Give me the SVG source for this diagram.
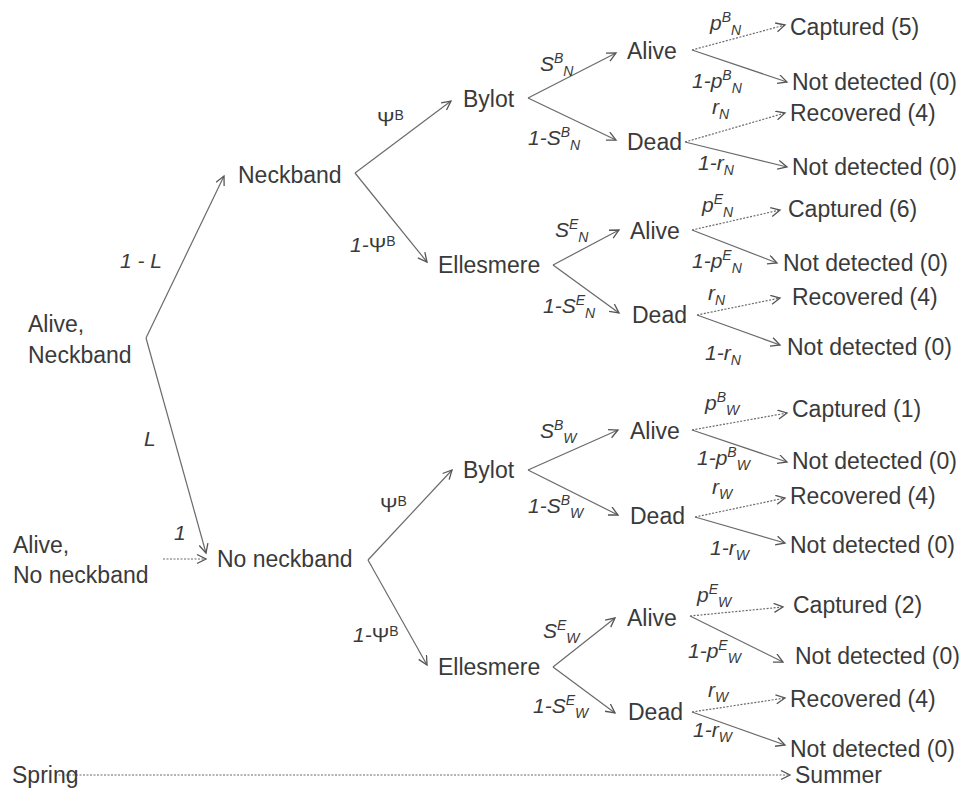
<svg xmlns="http://www.w3.org/2000/svg" width="971" height="791" viewBox="0 0 971 791">
<style>
.n{font-family:"Liberation Sans",Arial,sans-serif;font-size:23px;fill:#3a3a3a}
.l{font-family:"Liberation Sans",Arial,sans-serif;font-size:21px;font-style:italic;fill:#3a3a3a}
.u{font-style:normal}
.s{font-size:14px}
.c{stroke:#6a6a6a;stroke-width:1.2;fill:none;marker-end:url(#ah)}
.d{stroke-dasharray:2,1.5}
</style>
<defs>
<marker id="ah" markerUnits="userSpaceOnUse" markerWidth="12" markerHeight="12" refX="10" refY="5" orient="auto">
<path d="M1,0.5 L10,5 L1,9.5" stroke="#555" stroke-width="1.3" fill="none"/>
</marker>
</defs>
<rect width="971" height="791" fill="#fff"/>
<g id="connectors">
<line class="c" x1="146" y1="338" x2="224" y2="176"/>
<line class="c" x1="146" y1="338" x2="206" y2="553"/>
<line class="c d" x1="163" y1="559" x2="206" y2="559"/>
<line class="c" x1="355" y1="173" x2="451" y2="101"/>
<line class="c" x1="355" y1="173" x2="427" y2="262"/>
<line class="c" x1="528" y1="98" x2="616" y2="53"/>
<line class="c" x1="528" y1="98" x2="616" y2="140"/>
<line class="c" x1="553" y1="265" x2="619" y2="230"/>
<line class="c" x1="553" y1="265" x2="619" y2="313"/>
<line class="c d" x1="692" y1="50" x2="785" y2="25"/>
<line class="c" x1="692" y1="50" x2="787" y2="82"/>
<line class="c d" x1="685" y1="142" x2="785" y2="113"/>
<line class="c" x1="685" y1="142" x2="787" y2="167"/>
<line class="c d" x1="692" y1="230" x2="780" y2="210"/>
<line class="c" x1="692" y1="230" x2="777" y2="263"/>
<line class="c d" x1="697" y1="315" x2="780" y2="298"/>
<line class="c" x1="697" y1="315" x2="780" y2="345"/>
<line class="c" x1="368" y1="560" x2="452" y2="470"/>
<line class="c" x1="368" y1="560" x2="427" y2="665"/>
<line class="c" x1="528" y1="470" x2="618" y2="430"/>
<line class="c" x1="528" y1="470" x2="618" y2="515"/>
<line class="c" x1="553" y1="667" x2="615" y2="618"/>
<line class="c" x1="553" y1="667" x2="615" y2="713"/>
<line class="c d" x1="692" y1="430" x2="787" y2="413"/>
<line class="c" x1="692" y1="430" x2="787" y2="462"/>
<line class="c d" x1="695" y1="517" x2="785" y2="498"/>
<line class="c" x1="695" y1="517" x2="785" y2="543"/>
<line class="c d" x1="690" y1="616" x2="783" y2="607"/>
<line class="c" x1="690" y1="616" x2="783" y2="662"/>
<line class="c d" x1="692" y1="712" x2="785" y2="698"/>
<line class="c" x1="692" y1="712" x2="785" y2="745"/>
<line class="c d" x1="55" y1="775" x2="790" y2="775"/>
</g>
<g id="labels">
<text class="l" x="120" y="268">1 - L</text>
<text class="l" x="144" y="446">L</text>
<text class="l" x="174" y="540">1</text>
<text class="l u" x="377" y="126">Ψ<tspan class="s" dy="-6">B</tspan></text>
<text class="l" x="350" y="252">1-<tspan class="u">Ψ</tspan><tspan class="s u" dy="-6">B</tspan></text>
<text class="l u" x="380" y="512">Ψ<tspan class="s" dy="-6">B</tspan></text>
<text class="l" x="353" y="642">1-<tspan class="u">Ψ</tspan><tspan class="s u" dy="-6">B</tspan></text>
<text class="l" x="540" y="71">S<tspan class="s" dy="-8">B</tspan><tspan class="s" dy="13">N</tspan></text>
<text class="l" x="528" y="145">1-S<tspan class="s" dy="-8">B</tspan><tspan class="s" dy="13">N</tspan></text>
<text class="l" x="555" y="237">S<tspan class="s" dy="-8">E</tspan><tspan class="s" dy="13">N</tspan></text>
<text class="l" x="543" y="313">1-S<tspan class="s" dy="-8">E</tspan><tspan class="s" dy="13">N</tspan></text>
<text class="l" x="540" y="438">S<tspan class="s" dy="-8">B</tspan><tspan class="s" dy="13">W</tspan></text>
<text class="l" x="528" y="513">1-S<tspan class="s" dy="-8">B</tspan><tspan class="s" dy="13">W</tspan></text>
<text class="l" x="543" y="638">S<tspan class="s" dy="-8">E</tspan><tspan class="s" dy="13">W</tspan></text>
<text class="l" x="533" y="713">1-S<tspan class="s" dy="-8">E</tspan><tspan class="s" dy="13">W</tspan></text>
<text class="l" x="710" y="30">p<tspan class="s" dy="-8">B</tspan><tspan class="s" dy="13">N</tspan></text>
<text class="l" x="692" y="88">1-p<tspan class="s" dy="-8">B</tspan><tspan class="s" dy="13">N</tspan></text>
<text class="l" x="712" y="114">r<tspan class="s" dy="5">N</tspan></text>
<text class="l" x="698" y="170">1-r<tspan class="s" dy="5">N</tspan></text>
<text class="l" x="702" y="212">p<tspan class="s" dy="-8">E</tspan><tspan class="s" dy="13">N</tspan></text>
<text class="l" x="692" y="268">1-p<tspan class="s" dy="-8">E</tspan><tspan class="s" dy="13">N</tspan></text>
<text class="l" x="708" y="300">r<tspan class="s" dy="5">N</tspan></text>
<text class="l" x="705" y="360">1-r<tspan class="s" dy="5">N</tspan></text>
<text class="l" x="705" y="410">p<tspan class="s" dy="-8">B</tspan><tspan class="s" dy="13">W</tspan></text>
<text class="l" x="697" y="465">1-p<tspan class="s" dy="-8">B</tspan><tspan class="s" dy="13">W</tspan></text>
<text class="l" x="712" y="494">r<tspan class="s" dy="5">W</tspan></text>
<text class="l" x="710" y="555">1-r<tspan class="s" dy="5">W</tspan></text>
<text class="l" x="697" y="602">p<tspan class="s" dy="-8">E</tspan><tspan class="s" dy="13">W</tspan></text>
<text class="l" x="688" y="658">1-p<tspan class="s" dy="-8">E</tspan><tspan class="s" dy="13">W</tspan></text>
<text class="l" x="708" y="697">r<tspan class="s" dy="5">W</tspan></text>
<text class="l" x="693" y="737">1-r<tspan class="s" dy="5">W</tspan></text>
</g>
<g id="alive-neckband"><text class="n" x="28" y="332">Alive,</text><text class="n" x="28" y="363">Neckband</text></g>
<g id="alive-noneckband"><text class="n" x="13" y="553">Alive,</text><text class="n" x="13" y="583">No neckband</text></g>
<g id="neckband"><text class="n" x="238" y="183">Neckband</text></g>
<g id="noneckband"><text class="n" x="217" y="567">No neckband</text></g>
<g id="bylot-n"><text class="n" x="463" y="107">Bylot</text></g>
<g id="ellesmere-n"><text class="n" x="438" y="273">Ellesmere</text></g>
<g id="bylot-w"><text class="n" x="463" y="478">Bylot</text></g>
<g id="ellesmere-w"><text class="n" x="438" y="675">Ellesmere</text></g>
<g id="alive-bn"><text class="n" x="627" y="59">Alive</text></g>
<g id="dead-bn"><text class="n" x="627" y="150">Dead</text></g>
<g id="alive-en"><text class="n" x="630" y="239">Alive</text></g>
<g id="dead-en"><text class="n" x="632" y="323">Dead</text></g>
<g id="alive-bw"><text class="n" x="630" y="439">Alive</text></g>
<g id="dead-bw"><text class="n" x="630" y="524">Dead</text></g>
<g id="alive-ew"><text class="n" x="627" y="626">Alive</text></g>
<g id="dead-ew"><text class="n" x="628" y="720">Dead</text></g>
<g id="out1"><text class="n" x="790" y="35">Captured (5)</text></g>
<g id="out2"><text class="n" x="792" y="90">Not detected (0)</text></g>
<g id="out3"><text class="n" x="790" y="121">Recovered (4)</text></g>
<g id="out4"><text class="n" x="792" y="175">Not detected (0)</text></g>
<g id="out5"><text class="n" x="788" y="217">Captured (6)</text></g>
<g id="out6"><text class="n" x="783" y="271">Not detected (0)</text></g>
<g id="out7"><text class="n" x="792" y="305">Recovered (4)</text></g>
<g id="out8"><text class="n" x="787" y="355">Not detected (0)</text></g>
<g id="out9"><text class="n" x="792" y="417">Captured (1)</text></g>
<g id="out10"><text class="n" x="792" y="469">Not detected (0)</text></g>
<g id="out11"><text class="n" x="790" y="504">Recovered (4)</text></g>
<g id="out12"><text class="n" x="790" y="553">Not detected (0)</text></g>
<g id="out13"><text class="n" x="793" y="613">Captured (2)</text></g>
<g id="out14"><text class="n" x="795" y="664">Not detected (0)</text></g>
<g id="out15"><text class="n" x="790" y="707">Recovered (4)</text></g>
<g id="out16"><text class="n" x="790" y="757">Not detected (0)</text></g>
<g id="spring"><text class="n" x="12" y="783">Spring</text></g>
<g id="summer"><text class="n" x="795" y="783">Summer</text></g>
</svg>
